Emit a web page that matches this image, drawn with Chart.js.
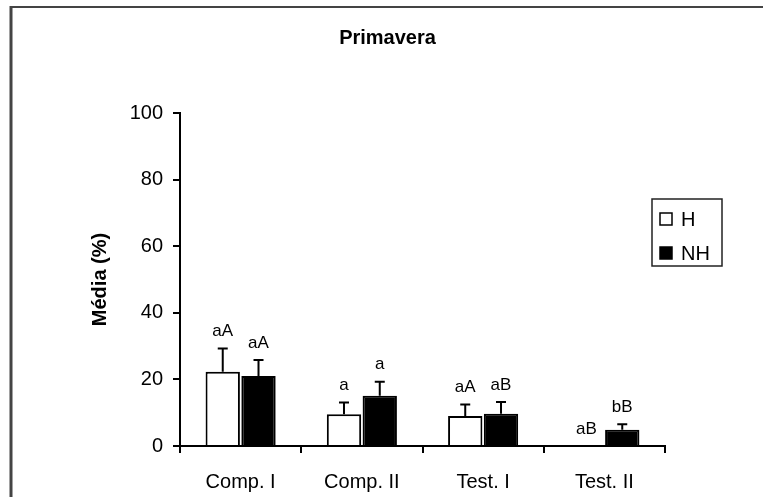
<!DOCTYPE html>
<html>
<head>
<meta charset="utf-8">
<script src="https://cdn.jsdelivr.net/npm/chart.js@4.4.1/dist/chart.umd.min.js"></script>
<style>
  html, body { margin: 0; padding: 0; background: #fff; }
  #chart { display: block; }
</style>
</head>
<body>
<canvas id="chart" width="763" height="497"></canvas>
<script>
var categories = ['Comp. I', 'Comp. II', 'Test. I', 'Test. II'];
var seriesNames = ['H', 'NH'];
var hValues = [22.3, 9.5, 9.0, 0];
var nhValues = [21.0, 15.1, 9.7, 4.9];
var hErrors = [7.0, 3.6, 3.5, 0];   // upper error only
var nhErrors = [4.8, 4.2, 3.5, 1.6];
var hLetters = ['aA', 'a', 'aA', 'aB'];
var nhLetters = ['aA', 'a', 'aB', 'bB'];
var yTicks = [0, 20, 40, 60, 80, 100];

var FONT = 'Liberation Sans, Arial, sans-serif';

// frame round the whole figure (left and top edge only visible)
var frame = {
  id: 'frame',
  beforeDraw: function(chart) {
    var ctx = chart.ctx;
    ctx.save();
    ctx.fillStyle = '#fff';
    ctx.fillRect(0, 0, chart.width, chart.height);
    ctx.strokeStyle = '#444';
    ctx.lineWidth = 3;
    ctx.beginPath();
    ctx.moveTo(11, 6);
    ctx.lineTo(11, chart.height);
    ctx.stroke();
    ctx.lineWidth = 2;
    ctx.beginPath();
    ctx.moveTo(10, 7);
    ctx.lineTo(chart.width, 7);
    ctx.stroke();
    ctx.restore();
  }
};

// error bars (up only) and letter labels
var errorBars = {
  id: 'errorBars',
  afterDatasetsDraw: function(chart) {
    var ctx = chart.ctx;
    var y = chart.scales.y;
    chart.data.datasets.forEach(function(ds, di) {
      var meta = chart.getDatasetMeta(di);
      meta.data.forEach(function(bar, i) {
        var v = ds.data[i], e = ds.errors[i];
        var top = y.getPixelForValue(v + e);
        ctx.save();
        ctx.strokeStyle = '#000';
        ctx.lineWidth = 2;
        if (e > 0) {
          ctx.beginPath();
          ctx.moveTo(bar.x, y.getPixelForValue(v));
          ctx.lineTo(bar.x, top);
          ctx.moveTo(bar.x - 5, top);
          ctx.lineTo(bar.x + 5, top);
          ctx.stroke();
        }
        ctx.fillStyle = '#000';
        ctx.font = '17px ' + FONT;
        ctx.textAlign = 'center';
        ctx.textBaseline = 'middle';
        ctx.fillText(ds.letters[i], bar.x, top - 17);
        ctx.restore();
      });
    });
  }
};

// boxed legend at the right
var boxLegend = {
  id: 'boxLegend',
  afterDraw: function(chart) {
    var ctx = chart.ctx;
    ctx.save();
    ctx.strokeStyle = '#222';
    ctx.lineWidth = 1.5;
    ctx.strokeRect(652, 199, 70, 67);
    ctx.font = '20px ' + FONT;
    ctx.textBaseline = 'middle';
    ctx.textAlign = 'left';
    chart.data.datasets.forEach(function(ds, i) {
      var cy = 219 + i * 34;
      ctx.fillStyle = ds.backgroundColor;
      ctx.fillRect(660, cy - 6, 12, 12);
      ctx.strokeStyle = '#000';
      ctx.lineWidth = 1.5;
      ctx.strokeRect(660, cy - 6, 12, 12);
      ctx.fillStyle = '#000';
      ctx.fillText(ds.label, 681, cy + 1);
    });
    ctx.restore();
  }
};

new Chart(document.getElementById('chart'), {
  type: 'bar',
  data: {
    labels: categories,
    datasets: [{
      label: seriesNames[0],
      data: hValues,
      errors: hErrors,
      letters: hLetters,
      backgroundColor: '#fff',
      borderColor: '#000',
      borderWidth: 2,
      borderSkipped: 'bottom'
    }, {
      label: seriesNames[1],
      data: nhValues,
      errors: nhErrors,
      letters: nhLetters,
      backgroundColor: '#000',
      borderColor: '#000',
      borderWidth: 2,
      borderSkipped: 'bottom'
    }]
  },
  options: {
    responsive: false,
    animation: false,
    categoryPercentage: 0.59,
    barPercentage: 0.96,
    layout: { padding: { left: 12, right: 0, top: 0, bottom: 0 } },
    plugins: {
      legend: { display: false },
      tooltip: { enabled: false },
      title: {
        display: true,
        text: 'Primavera',
        color: '#000',
        font: { family: FONT, size: 20, weight: 'bold' },
        padding: { top: 26, bottom: 63 }
      }
    },
    scales: {
      x: {
        offset: true,
        grid: { display: true, drawOnChartArea: false, offset: true, tickLength: 7, color: '#000', lineWidth: 2 },
        border: { display: true, color: '#000', width: 2 },
        ticks: { color: '#000', padding: 17, font: { family: FONT, size: 20 } },
        afterFit: function(s) { s.height = 51; }
      },
      y: {
        min: 0,
        max: 100,
        afterBuildTicks: function(s) { s.ticks = yTicks.map(function(v) { return { value: v }; }); },
        grid: { display: true, drawOnChartArea: false, tickLength: 7, color: '#000', lineWidth: 2 },
        border: { display: true, color: '#000', width: 2 },
        ticks: { color: '#000', padding: 10, font: { family: FONT, size: 20 } },
        title: {
          display: true,
          text: 'Média (%)',
          color: '#000',
          font: { family: FONT, size: 20, weight: 'bold' },
          padding: { top: 76, bottom: 0 }
        },
        afterFit: function(s) { s.width = 168; }
      },
      pad: {
        type: 'linear',
        position: 'right',
        display: true,
        grid: { display: false },
        border: { display: false },
        ticks: { display: false },
        afterFit: function(s) { s.width = 98; }
      }
    }
  },
  plugins: [frame, errorBars, boxLegend]
});
</script>
</body>
</html>
